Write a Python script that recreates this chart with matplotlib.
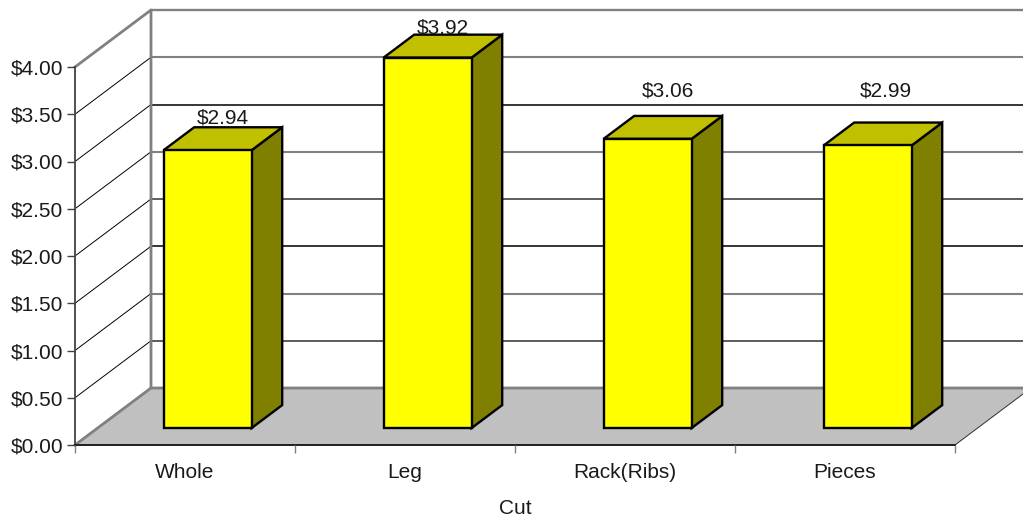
import numpy as np
import matplotlib
matplotlib.use('Agg')
from matplotlib import pyplot as plt
from matplotlib.patches import Polygon

plt.rcParams['font.family'] = ['Liberation Sans', 'DejaVu Sans']

cuts = ['Whole', 'Leg', 'Rack(Ribs)', 'Pieces']
prices = [2.94, 3.92, 3.06, 2.99]
yticks = [0, 0.5, 1, 1.5, 2, 2.5, 3, 3.5, 4]
xlabel = 'Cut'

# oblique depth of the box, data units for one full depth step
DX = 76/220
DY = 57/94.5
# bar footprint in depth and width
D1, D2 = 0.298, 0.70
BW = 0.4

# label offsets in points, the labels do not sit at a fixed spot above the bars
lab_dx = [-11, -11, -7.5, -9]
lab_dy = [0.0, -2.4, 11, 15.6]

grid_col = ['#808080', '#303030', '#808080', '#000000', '#505050', '#808080', '#000000', '#808080', '#808080']
grid_lw = [2.0, 1.1, 1.5, 1.1, 1.3, 1.5, 1.1, 1.5, 1.7]
W, H = 1023, 521


def proj(x, y, d):
    return (x + d*DX, y + d*DY)


fig = plt.figure(figsize=(W/100, H/100), dpi=100)
ax = fig.add_axes([75/W, (H-445)/H, 880/W, 378/H])
ax.set_xlim(0, 4)
ax.set_ylim(0, 4)
ax.patch.set_visible(False)

# floor
floor = [proj(0, 0, 0), proj(4, 0, 0), proj(4, 0, 1), proj(0, 0, 1)]
ax.add_patch(Polygon(floor, closed=True, fc='#c0c0c0', ec='none', clip_on=False, zorder=1))
ax.plot(*zip(proj(4, 0, 0), proj(4, 0, 1)), color='#303030', lw=0.7, clip_on=False, zorder=1.1)

# gridlines on both walls
for v, c, lw in zip(yticks[1:], grid_col[1:], grid_lw[1:]):
    if v < 4:
        ax.plot(*zip(proj(0, v, 0), proj(0, v, 1)), color='#000000', lw=0.7, clip_on=False, zorder=1.2)
    ax.plot(*zip(proj(0, v, 1), proj(4, v, 1)), color=c, lw=lw, clip_on=False, zorder=1.2)

# wall edges
ax.plot(*zip(proj(0, 4, 0), proj(0, 4, 1), proj(0, 0, 1)), color='#808080', lw=2.0, clip_on=False, zorder=1.3)
ax.plot(*zip(proj(0, 0, 0), proj(0, 0, 1), proj(4, 0, 1)), color='#808080', lw=2.0, clip_on=False, zorder=1.3)

# bars
for i, v in enumerate(prices):
    x0 = i + 0.5 - BW/2
    x1 = i + 0.5 + BW/2
    front = [proj(x0, 0, D1), proj(x1, 0, D1), proj(x1, v, D1), proj(x0, v, D1)]
    top = [proj(x0, v, D1), proj(x1, v, D1), proj(x1, v, D2), proj(x0, v, D2)]
    side = [proj(x1, 0, D1), proj(x1, 0, D2), proj(x1, v, D2), proj(x1, v, D1)]
    for pts, fc in ((side, '#808000'), (top, '#c0c000'), (front, '#ffff00')):
        ax.add_patch(Polygon(pts, closed=True, fc=fc, ec='black', lw=1.7,
                             joinstyle='miter', clip_on=False, zorder=2+0.1*i))
    ax.annotate('$%.2f' % v, xy=proj(i + 0.5, v, D2), xytext=(lab_dx[i], lab_dy[i]),
                textcoords='offset points', ha='center', va='bottom', fontsize=15,
                color='#1a1a1a', annotation_clip=False, zorder=3)

for s in ('top', 'right'):
    ax.spines[s].set_visible(False)
ax.spines['left'].set_color('#505050')
ax.spines['left'].set_linewidth(1.4)
ax.spines['left'].set_zorder(1.4)
ax.spines['bottom'].set_color('#101010')
ax.spines['bottom'].set_linewidth(1.3)
ax.spines['bottom'].set_zorder(1.4)

ax.set_yticks(yticks)
ax.set_yticklabels(['$%.2f' % t for t in yticks], fontsize=15, color='#1a1a1a')
ax.tick_params(axis='y', length=5.8, width=1.0, color='#404040', pad=2.5)

ax.set_xticks(range(5))
ax.set_xticklabels([])
ax.tick_params(axis='x', which='major', length=5.8, width=1.0, color='#808080')
ax.set_xticks(np.arange(4) + 0.5, minor=True)
ax.set_xticklabels(cuts, minor=True, fontsize=15, color='#1a1a1a')
ax.tick_params(axis='x', which='minor', length=0, pad=12.8)

ax.set_xlabel(xlabel, fontsize=15, color='#1a1a1a', labelpad=12.2)

fig.savefig('out.png', dpi=100, facecolor='white')
